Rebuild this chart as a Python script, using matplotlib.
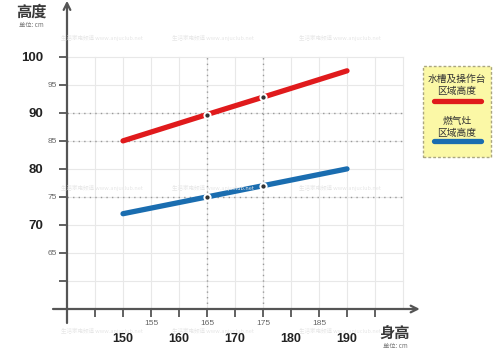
import matplotlib.pyplot as plt
from matplotlib.lines import Line2D
from matplotlib.patches import FancyBboxPatch
from matplotlib.ticker import FixedLocator, FixedFormatter

# Data
height = [150, 165, 175, 190]          # body height (cm)
sink = [85, 89.7, 92.8, 97.5]          # sink / worktop height (cm)
stove = [72, 75, 77, 80]               # gas stove height (cm)

x_major = [150, 160, 170, 180, 190]
x_minor = [145, 155, 165, 175, 185, 195]
x_minor_labels = ['', '155', '165', '175', '185', '']
y_major = [70, 80, 90, 100]
y_minor = [60, 65, 75, 85, 95]
y_minor_labels = ['', '65', '75', '85', '95']
dotted_y = [90, 85, 75]
dotted_x = [165, 175]

red = '#e01a1c'
blue = '#1a6db0'
axis_col = '#555555'
cjk = ['Noto Sans CJK SC', 'DejaVu Sans']

W, H = 500, 351
fig = plt.figure(figsize=(W / 100, H / 100), dpi=100)
ax = fig.add_axes([67 / W, 1 - 309 / H, 350 / W, 306 / H])
ax.set_xlim(140, 202.5)
ax.set_ylim(55, 109.6)
for s in ax.spines.values():
    s.set_visible(False)

# light grid, only inside 140..200 x 55..100
for gx in range(145, 201, 5):
    ax.plot([gx, gx], [55, 100], color='#e8e8e8', lw=0.8, zorder=0)
for gy in range(60, 101, 5):
    ax.plot([140, 200], [gy, gy], color='#e8e8e8', lw=0.8, zorder=0)

# dotted reference lines
for dy in dotted_y:
    ax.plot([140, 200], [dy, dy], color='#999999', lw=1.0, ls=(0, (1, 3)), zorder=1)
for dx in dotted_x:
    ax.plot([dx, dx], [55, 100], color='#999999', lw=1.0, ls=(0, (1, 3)), zorder=1)

# data lines
for vals, c in [(sink, red), (stove, blue)]:
    ax.plot(height, vals, color=c, lw=3.8, solid_capstyle='round', zorder=3)
    ax.plot(height, vals, ls='none', marker='o', markevery=[1, 2], ms=4.5,
            mfc='#333333', mec='white', mew=1.4, zorder=4)

# axes with arrows, slightly crossing each other
ax.annotate('', xy=(203, 55), xytext=(137.5, 55), annotation_clip=False,
            arrowprops=dict(arrowstyle='->', color=axis_col, lw=1.6,
                            mutation_scale=12, shrinkA=0, shrinkB=0))
ax.annotate('', xy=(140, 110), xytext=(140, 52.5), annotation_clip=False,
            arrowprops=dict(arrowstyle='->', color=axis_col, lw=1.6,
                            mutation_scale=12, shrinkA=0, shrinkB=0))

# ticks
ax.xaxis.set_major_locator(FixedLocator(x_major))
ax.xaxis.set_minor_locator(FixedLocator(x_minor))
ax.xaxis.set_minor_formatter(FixedFormatter(x_minor_labels))
ax.set_xticklabels([str(v) for v in x_major], fontfamily='Liberation Sans',
                   fontweight='bold', fontsize=9, color='#222222')
ax.tick_params(axis='x', which='major', length=6, width=1.3, color=axis_col, pad=11)
ax.tick_params(axis='x', which='minor', length=6, width=1.3, color=axis_col, pad=2,
               labelsize=6, labelcolor='#666666')

ax.yaxis.set_major_locator(FixedLocator(y_major))
ax.yaxis.set_minor_locator(FixedLocator(y_minor))
ax.yaxis.set_minor_formatter(FixedFormatter(y_minor_labels))
ax.set_yticklabels([str(v) for v in y_major], fontfamily='Liberation Sans',
                   fontweight='bold', fontsize=9.5, color='#222222')
ax.tick_params(axis='y', which='major', length=6, width=1.3, color=axis_col, pad=11)
ax.tick_params(axis='y', which='minor', length=6, width=1.3, color=axis_col, pad=1,
               labelsize=6, labelcolor='#666666')
for lab in ax.xaxis.get_minorticklabels() + ax.yaxis.get_minorticklabels():
    lab.set_fontfamily('Liberation Sans')

# axis titles
fig.text(31 / W, 1 - 12 / H, '高度', family=cjk, fontsize=11, fontweight='bold',
         color='#3a3a3a', ha='center', va='center')
fig.text(31 / W, 1 - 25 / H, '单位: cm', family=cjk, fontsize=4.5, color='#777777',
         ha='center', va='center')
fig.text(395 / W, 1 - 334 / H, '身高', family=cjk, fontsize=11, fontweight='bold',
         color='#3a3a3a', ha='center', va='center')
fig.text(395 / W, 1 - 346 / H, '单位: cm', family=cjk, fontsize=4.5, color='#777777',
         ha='center', va='center')

# faint watermarks
for wy in [38, 188, 331]:
    for wx in [102, 213, 340]:
        fig.text(wx / W, 1 - wy / H, '生活家电频道 www.anjuclub.net', family=cjk,
                 fontsize=4, color='#e6e6e6', ha='center', va='center', zorder=0)

# legend box
box = FancyBboxPatch((423 / W, 1 - 157 / H), 68 / W, 91 / H,
                     boxstyle='square,pad=0', transform=fig.transFigure,
                     facecolor='#fbf8a6', edgecolor='#aaa680', lw=1.0, ls=(0, (2, 1.5)))
fig.add_artist(box)
fig.text(457 / W, 1 - 79 / H, '水槽及操作台', family=cjk, fontsize=7, fontweight='medium',
         color='#333333', ha='center', va='center')
fig.text(457 / W, 1 - 91 / H, '区域高度', family=cjk, fontsize=7, fontweight='medium',
         color='#333333', ha='center', va='center')
fig.add_artist(Line2D([434 / W, 481 / W], [1 - 101 / H, 1 - 101 / H], color=red, lw=3.8,
                      solid_capstyle='round', transform=fig.transFigure))
fig.text(457 / W, 1 - 121 / H, '燃气灶', family=cjk, fontsize=7, fontweight='medium',
         color='#333333', ha='center', va='center')
fig.text(457 / W, 1 - 133 / H, '区域高度', family=cjk, fontsize=7, fontweight='medium',
         color='#333333', ha='center', va='center')
fig.add_artist(Line2D([434 / W, 481 / W], [1 - 141 / H, 1 - 141 / H], color=blue, lw=3.8,
                      solid_capstyle='round', transform=fig.transFigure))

fig.savefig('out.png', dpi=100)
